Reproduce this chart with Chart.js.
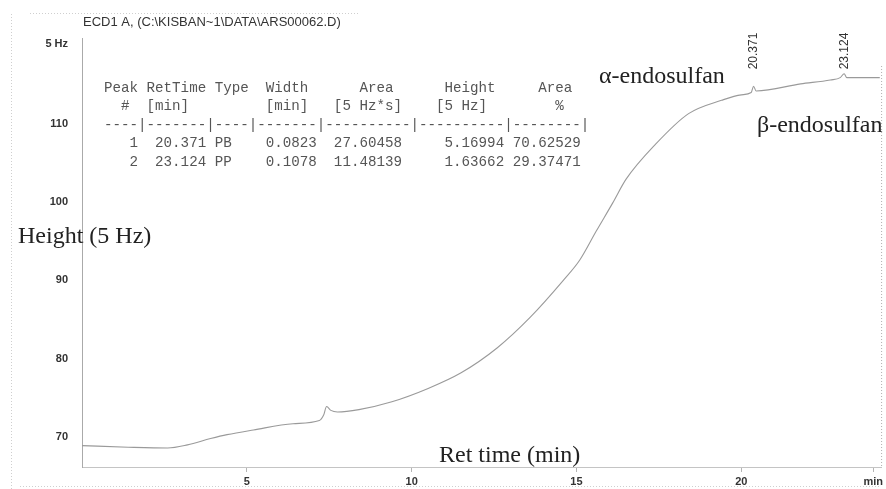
<!DOCTYPE html>
<html>
<head>
<meta charset="utf-8">
<script src="https://cdn.jsdelivr.net/npm/chart.js@4"></script>
<style>
  html, body { margin: 0; padding: 0; background: #fff; }
  #wrap { width: 886px; height: 489px; }
</style>
</head>
<body>
<div id="wrap"><canvas id="ecdChart" width="886" height="489"></canvas></div>
<script>
// Baseline trace (retention time in min, signal in 5 Hz units)
const retTimeMin = [0.0, 1.4, 2.6, 3.2, 3.9, 4.4, 5.2, 6.4, 7.2, 7.33, 7.42, 7.55, 7.75,
    8.4, 9.4, 10.5, 11.5, 12.6, 13.6, 14.6, 15.1, 15.6, 16.1, 16.5, 17.4, 18.4,
    19.4, 20.0, 20.3, 20.37, 20.45, 21.8, 22.7, 23.0, 23.12, 23.2, 24.2];
const heightHz = [68.9, 68.7, 68.6, 69.0, 69.8, 70.3, 70.9, 71.7, 72.1, 72.8, 73.9, 73.4, 73.2,
    73.5, 74.5, 76.2, 78.2, 81.4, 85.3, 90.0, 92.6, 96.3, 99.9, 102.9, 107.4, 111.3,
    113.0, 113.7, 114.0, 114.8, 114.2, 115.1, 115.6, 115.9, 116.4, 115.9, 115.9];

const xTicks = [5, 10, 15, 20];
const yTicks = [70, 80, 90, 100, 110];
const xUnitTick = 24.0;   // where "min" sits
const yUnitTick = 120.2;  // where "5 Hz" sits

const peakTimes = [20.371, 23.124];
const peakLabels = ['20.371', '23.124'];

const reportTitle = 'ECD1 A, (C:\\KISBAN~1\\DATA\\ARS00062.D)';
const tableLines = [
    'Peak RetTime Type  Width      Area      Height     Area',
    '  #  [min]         [min]   [5 Hz*s]    [5 Hz]        %',
    '----|-------|----|-------|----------|----------|--------|',
    '   1  20.371 PB    0.0823  27.60458     5.16994 70.62529',
    '   2  23.124 PP    0.1078  11.48139     1.63662 29.37471'
];

// Text overlays: report header, peak table, compound names, axis titles
const overlayPlugin = {
    id: 'overlay',
    afterDraw(chart) {
        const ctx = chart.ctx;
        const x = chart.scales.x;
        ctx.save();

        // scan frame (faint dotted page edges)
        ctx.strokeStyle = '#cfcfcf';
        ctx.lineWidth = 1;
        ctx.setLineDash([1, 2]);
        ctx.beginPath();
        ctx.moveTo(11.5, 14); ctx.lineTo(11.5, 489);
        ctx.moveTo(30, 13.5); ctx.lineTo(360, 13.5);
        ctx.moveTo(20, 486.5); ctx.lineTo(880, 486.5);
        ctx.stroke();
        // right plot border
        ctx.strokeStyle = '#b0b0b0';
        ctx.beginPath();
        ctx.moveTo(chart.chartArea.right + 0.5, 66);
        ctx.lineTo(chart.chartArea.right + 0.5, chart.chartArea.bottom);
        ctx.stroke();
        ctx.setLineDash([]);

        ctx.fillStyle = '#333';
        ctx.font = '13px "Liberation Sans", Arial, sans-serif';
        ctx.textBaseline = 'middle';
        ctx.fillText(reportTitle, 83, 22);

        ctx.fillStyle = '#555';
        ctx.font = '14.2px "Liberation Mono", "Courier New", monospace';
        const rowY = [88, 106, 125, 143, 162];
        tableLines.forEach((line, i) => ctx.fillText(line, 104, rowY[i]));

        // peak retention-time labels, rotated
        ctx.fillStyle = '#333';
        ctx.font = '12px "Liberation Sans", Arial, sans-serif';
        peakTimes.forEach((t, i) => {
            ctx.save();
            ctx.translate(x.getPixelForValue(t), 51);
            ctx.rotate(-Math.PI / 2);
            ctx.textAlign = 'center';
            ctx.fillText(peakLabels[i], 0, 0);
            ctx.restore();
        });

        ctx.fillStyle = '#222';
        ctx.font = '24px "Liberation Serif", "Times New Roman", serif';
        ctx.textBaseline = 'alphabetic';
        ctx.fillText('α-endosulfan', 599, 83);
        ctx.fillText('β-endosulfan', 757, 132);
        ctx.fillText('Height (5 Hz)', 18, 243);
        ctx.fillText('Ret time (min)', 439, 462);
        ctx.restore();
    }
};

const tickFont = { family: '"Liberation Sans", Arial, sans-serif', size: 11, weight: 'bold' };

new Chart(document.getElementById('ecdChart'), {
    type: 'line',
    data: {
        datasets: [{
            data: retTimeMin.map((t, i) => ({ x: t, y: heightHz[i] })),
            borderColor: '#9a9a9a',
            borderWidth: 1.1,
            pointRadius: 0,
            cubicInterpolationMode: 'monotone',
            fill: false
        }]
    },
    options: {
        responsive: false,
        animation: false,
        layout: { padding: { left: 0, top: 38, right: 4, bottom: 0 } },
        plugins: { legend: { display: false }, tooltip: { enabled: false } },
        scales: {
            x: {
                type: 'linear',
                min: 0,
                max: 24.24,
                afterFit: (s) => { s.height = 22; },
                afterBuildTicks: (s) => {
                    s.ticks = [...xTicks, xUnitTick].map(v => ({ value: v }));
                },
                grid: { drawOnChartArea: false, drawTicks: true, tickLength: 5, color: '#b5b5b5' },
                border: { color: '#c4c4c4', dash: [2, 2] },
                ticks: {
                    color: '#333',
                    font: tickFont,
                    padding: 3,
                    maxRotation: 0,
                    autoSkip: false,
                    callback: (v) => v === xUnitTick ? 'min' : v
                }
            },
            y: {
                min: 66.17,
                max: 120.96,
                afterFit: (s) => { s.width = 82; },
                afterBuildTicks: (s) => {
                    s.ticks = [...yTicks, yUnitTick].map(v => ({ value: v }));
                },
                grid: { drawOnChartArea: false, drawTicks: false },
                border: { color: '#aaa', dash: [1, 2] },
                ticks: {
                    color: '#333',
                    font: tickFont,
                    padding: 14,
                    autoSkip: false,
                    callback: (v) => v === yUnitTick ? '5 Hz' : v
                }
            }
        }
    },
    plugins: [overlayPlugin]
});
</script>
</body>
</html>
